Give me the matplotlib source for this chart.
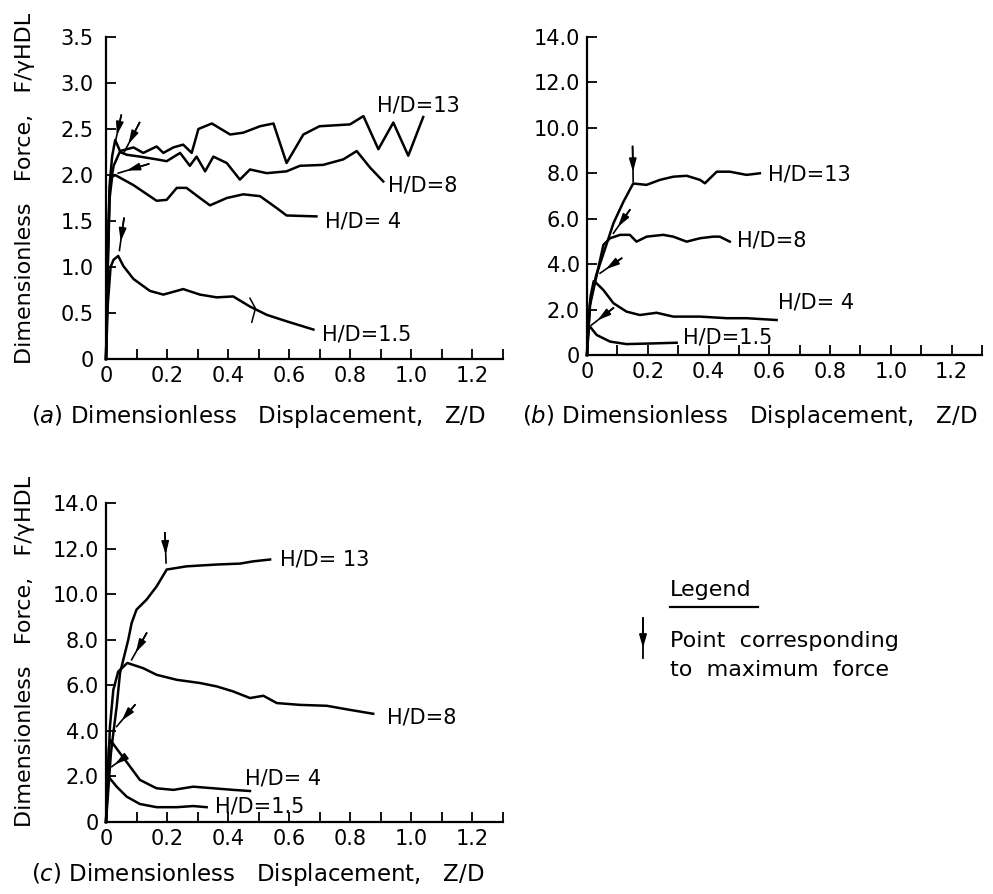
import numpy as np
import matplotlib
matplotlib.use("Agg")
import matplotlib.pyplot as plt
from matplotlib.lines import Line2D
from matplotlib.patches import FancyArrowPatch

# ---- (a) force-displacement curves, Z/D vs F/(gamma H D L) ----
a13_z = [0, 0.006, 0.012, 0.02, 0.03, 0.046, 0.09, 0.122, 0.166, 0.188, 0.221, 0.253, 0.281,
         0.303, 0.347, 0.407, 0.45, 0.505, 0.549, 0.592, 0.647, 0.70, 0.80, 0.844, 0.893,
         0.942, 0.991, 1.04]
a13_f = [0, 1.2, 1.9, 2.2, 2.38, 2.26, 2.30, 2.24, 2.31, 2.24, 2.30, 2.33, 2.24,
         2.50, 2.56, 2.44, 2.46, 2.53, 2.56, 2.13, 2.44, 2.53, 2.55, 2.64, 2.28,
         2.57, 2.21, 2.63]
a8_z = [0, 0.006, 0.012, 0.025, 0.045, 0.068, 0.111, 0.166, 0.199, 0.243, 0.275, 0.297, 0.325,
        0.352, 0.396, 0.439, 0.472, 0.527, 0.592, 0.636, 0.712, 0.778, 0.822, 0.866, 0.909]
a8_f = [0, 1.1, 1.85, 2.1, 2.25, 2.22, 2.20, 2.17, 2.15, 2.24, 2.10, 2.20, 2.04,
        2.20, 2.13, 1.95, 2.06, 2.02, 2.04, 2.10, 2.11, 2.17, 2.26, 2.08, 1.93]
a4_z = [0, 0.006, 0.012, 0.02, 0.03, 0.09, 0.166, 0.199, 0.232, 0.264, 0.308, 0.341, 0.396,
        0.45, 0.505, 0.56, 0.592, 0.69]
a4_f = [0, 1.0, 1.75, 1.98, 2.0, 1.89, 1.72, 1.73, 1.86, 1.86, 1.75, 1.67, 1.75,
        1.79, 1.77, 1.64, 1.56, 1.55]
a15_z = [0, 0.006, 0.015, 0.025, 0.04, 0.057, 0.09, 0.144, 0.188, 0.253, 0.308, 0.363, 0.417,
         0.472, 0.527, 0.592, 0.68]
a15_f = [0, 0.6, 1.0, 1.08, 1.12, 1.01, 0.87, 0.74, 0.70, 0.76, 0.70, 0.67, 0.68,
         0.57, 0.48, 0.41, 0.32]

# ---- (b) ----
b13_z = [0, 0.005, 0.01, 0.03, 0.05, 0.065, 0.087, 0.12, 0.152, 0.196, 0.24, 0.284, 0.328,
         0.372, 0.388, 0.427, 0.47, 0.525, 0.569]
b13_f = [0, 1.2, 2.3, 3.5, 4.3, 4.9, 5.8, 6.75, 7.55, 7.49, 7.71, 7.85, 7.89,
         7.71, 7.56, 8.07, 8.07, 7.93, 8.0]
b8_z = [0, 0.005, 0.01, 0.03, 0.045, 0.054, 0.076, 0.109, 0.141, 0.163, 0.196, 0.251, 0.284,
        0.328, 0.372, 0.415, 0.437, 0.47]
b8_f = [0, 1.1, 2.2, 3.4, 4.3, 4.85, 5.14, 5.29, 5.29, 4.99, 5.21, 5.29, 5.21,
        4.99, 5.14, 5.21, 5.21, 4.99]
b4_z = [0, 0.005, 0.012, 0.022, 0.032, 0.054, 0.087, 0.13, 0.174, 0.229, 0.284, 0.372, 0.46,
        0.525, 0.624]
b4_f = [0, 1.5, 2.6, 3.25, 3.15, 2.86, 2.28, 1.91, 1.76, 1.86, 1.69, 1.69, 1.62,
        1.62, 1.54]
b15_z = [0, 0.002, 0.008, 0.032, 0.076, 0.13, 0.218, 0.295]
b15_f = [0, 0.8, 1.28, 0.88, 0.59, 0.48, 0.51, 0.54]

# ---- (c) ----
c13_z = [0, 0.008, 0.016, 0.024, 0.035, 0.046, 0.073, 0.084, 0.1, 0.133, 0.166, 0.199, 0.264,
         0.363, 0.439, 0.483, 0.538]
c13_f = [0, 1.5, 3.0, 3.9, 5.07, 6.54, 8.0, 8.73, 9.32, 9.76, 10.34, 11.08, 11.22,
         11.30, 11.34, 11.44, 11.52]
c8_z = [0, 0.006, 0.013, 0.024, 0.04, 0.07, 0.122, 0.166, 0.232, 0.308, 0.363, 0.417, 0.472,
        0.516, 0.56, 0.636, 0.724, 0.80, 0.876]
c8_f = [0, 2.0, 4.19, 5.8, 6.6, 6.98, 6.75, 6.46, 6.24, 6.10, 5.95, 5.73, 5.44,
        5.54, 5.22, 5.14, 5.10, 4.92, 4.75]
c4_z = [0, 0.005, 0.01, 0.014, 0.046, 0.079, 0.111, 0.155, 0.166, 0.221, 0.286, 0.352, 0.417,
        0.472]
c4_f = [0, 2.0, 3.3, 3.6, 3.02, 2.43, 1.85, 1.55, 1.48, 1.41, 1.55, 1.48, 1.41, 1.36]
c15_z = [0, 0.004, 0.008, 0.035, 0.068, 0.111, 0.166, 0.232, 0.286, 0.33]
c15_f = [0, 1.2, 1.99, 1.55, 1.11, 0.79, 0.65, 0.65, 0.70, 0.65]

# maximum-force markers: (tail z, tail f, tip z, tip f)
a_peaks = [(0.05, 2.65, 0.03, 2.35), (0.11, 2.57, 0.06, 2.25),
           (0.14, 2.12, 0.04, 2.02), (0.059, 1.53, 0.044, 1.18)]
b_peaks = [(0.15, 9.18, 0.152, 7.63), (0.141, 6.39, 0.087, 5.36),
           (0.114, 4.26, 0.043, 3.6), (0.087, 2.07, 0.015, 1.32)]
c_peaks = [(0.193, 12.69, 0.197, 11.37), (0.133, 8.29, 0.084, 7.12),
           (0.095, 5.14, 0.035, 4.19), (0.057, 2.80, 0.019, 2.43)]

# curve labels: (text, z, f) at the left / vertical centre of the label
a_labels = [("H/D=13", 0.89, 2.76), ("H/D=8", 0.925, 1.89),
            ("H/D= 4", 0.718, 1.50), ("H/D=1.5", 0.708, 0.27)]
b_labels = [("H/D=13", 0.595, 7.93), ("H/D=8", 0.493, 5.02),
            ("H/D= 4", 0.628, 2.29), ("H/D=1.5", 0.316, 0.79)]
c_labels = [("H/D= 13", 0.57, 11.52), ("H/D=8", 0.92, 4.6),
            ("H/D= 4", 0.456, 1.93), ("H/D=1.5", 0.357, 0.66)]

HEAD = "-|>,head_length=0.7,head_width=0.2"

W, H = 993, 894
fig = plt.figure(figsize=(W / 100, H / 100), dpi=100)


def px_axes(left, right, top, bottom):
    return fig.add_axes([left / W, 1 - bottom / H, (right - left) / W, (bottom - top) / H])


def style(ax, ymax, ystep, yfmt, ypad):
    for s in ("top", "right"):
        ax.spines[s].set_visible(False)
    for s in ("left", "bottom"):
        ax.spines[s].set_linewidth(1.6)
    ax.set_xlim(0, 1.3)
    ax.set_ylim(0, ymax)
    xt = np.arange(0, 1.21, 0.2)
    ax.set_xticks(xt)
    ax.set_xticklabels(["0"] + [f"{v:.1f}" for v in xt[1:]])
    ax.set_xticks(np.arange(0.1, 1.31, 0.2), minor=True)
    yt = np.arange(0, ymax + 1e-9, ystep)
    ax.set_yticks(yt)
    ax.set_yticklabels(["0"] + [yfmt.format(v) for v in yt[1:]])
    ax.tick_params(which="both", direction="in", length=7, width=1.3, labelsize=15)
    ax.tick_params(axis="x", pad=5)
    ax.tick_params(axis="y", pad=ypad)
    ax.patch.set_alpha(0)


def peak_arrow(ax, tz, tf, hz, hf):
    ax.plot([tz, hz], [tf, hf], color="k", lw=1.2, clip_on=False)
    mz, mf = tz + 0.72 * (hz - tz), tf + 0.72 * (hf - tf)
    ax.annotate("", xy=(mz, mf), xytext=(tz, tf),
                arrowprops=dict(arrowstyle=HEAD, color="k", lw=1.2,
                                shrinkA=0, shrinkB=0, mutation_scale=11))


def draw(ax, curves, peaks, labels):
    for z, f in curves:
        ax.plot(z, f, color="k", lw=1.8, clip_on=False, solid_joinstyle="round")
    for p in peaks:
        peak_arrow(ax, *p)
    for text, z, f in labels:
        ax.text(z, f, text, fontsize=15, ha="left", va="center")


ax_a = px_axes(106, 502.5, 37, 359)
ax_b = px_axes(587, 982, 37, 355)
ax_c = px_axes(106, 502.5, 503, 822)

style(ax_a, 3.5, 0.5, "{:.1f}", 9)
style(ax_b, 14.0, 2.0, "{:.1f}", 5)
style(ax_c, 14.0, 2.0, "{:.1f}", 5)

draw(ax_a, [(a13_z, a13_f), (a8_z, a8_f), (a4_z, a4_f), (a15_z, a15_f)], a_peaks, a_labels)
draw(ax_b, [(b13_z, b13_f), (b8_z, b8_f), (b4_z, b4_f), (b15_z, b15_f)], b_peaks, b_labels)
draw(ax_c, [(c13_z, c13_f), (c8_z, c8_f), (c4_z, c4_f), (c15_z, c15_f)], c_peaks, c_labels)

# small hand tick crossing the H/D=1.5 curve in (a)
ax_a.plot([0.472, 0.49, 0.478], [0.66, 0.55, 0.40], color="k", lw=1.1)

ylab = "Dimensionless   Force,   F/\u03b3HDL"
fig.text(25 / W, 1 - 188 / H, ylab, rotation=90, fontsize=16, ha="center", va="center")
fig.text(25 / W, 1 - 651 / H, ylab, rotation=90, fontsize=16, ha="center", va="center")

xlab = "Dimensionless   Displacement,   Z/D"
fig.text(258 / W, 1 - 417 / H, r"$\mathit{(a)}$ " + xlab, fontsize=16.5, ha="center", va="center")
fig.text(750 / W, 1 - 417 / H, r"$\mathit{(b)}$ " + xlab, fontsize=16.5, ha="center", va="center")
fig.text(258 / W, 1 - 874 / H, r"$\mathit{(c)}$ " + xlab, fontsize=16.5, ha="center", va="center")

# legend block
fig.text(670 / W, 1 - 590 / H, "Legend", fontsize=16, ha="left", va="center")
fig.add_artist(Line2D([670 / W, 758 / W], [1 - 607 / H, 1 - 607 / H], color="k", lw=1.6))
fig.add_artist(Line2D([643 / W, 643 / W], [1 - 618 / H, 1 - 658 / H], color="k", lw=1.3))
fig.add_artist(FancyArrowPatch(
    (643 / W, 1 - 618 / H), (643 / W, 1 - 648 / H), transform=fig.transFigure,
    arrowstyle=HEAD, color="k", lw=1.3, shrinkA=0, shrinkB=0, mutation_scale=11))
fig.text(670 / W, 1 - 641 / H, "Point  corresponding", fontsize=16, ha="left", va="center")
fig.text(670 / W, 1 - 670 / H, "to  maximum  force", fontsize=16, ha="left", va="center")

fig.savefig("out.png", dpi=100)
